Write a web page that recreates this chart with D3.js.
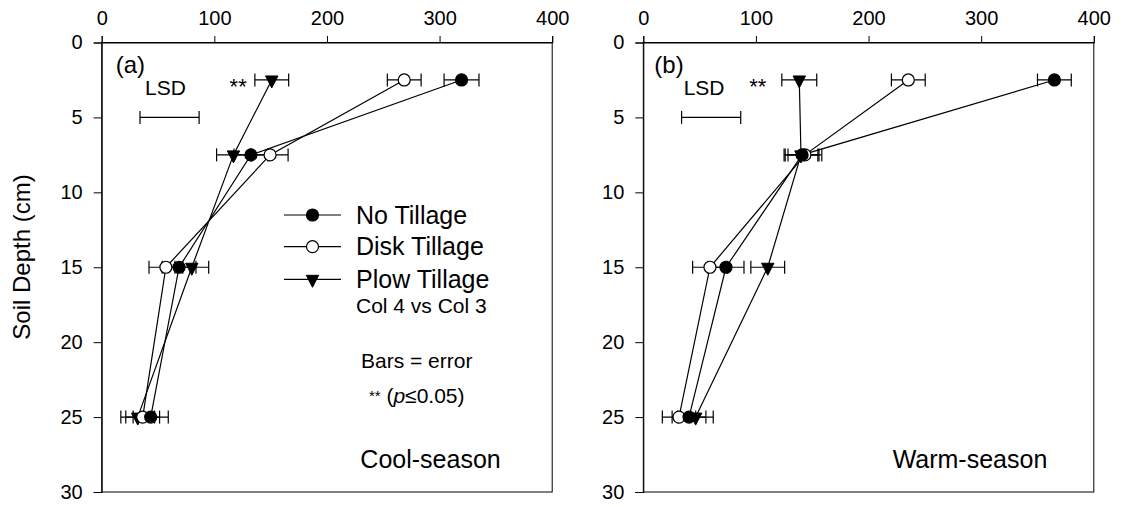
<!DOCTYPE html>
<html><head><meta charset="utf-8">
<script src="https://cdn.jsdelivr.net/npm/d3@7"></script>
<style>
html,body{margin:0;padding:0;background:#fff;}
svg{display:block;}
text{font-family:"Liberation Sans",Arial,sans-serif;fill:#000;}
</style></head>
<body>
<svg id="chart" width="1124" height="507"></svg>
<script>
// ---- data ----
const depths = [2.5, 7.5, 15, 25];
const xTicks = [0, 100, 200, 300, 400];
const yTicks = [0, 5, 10, 15, 20, 25, 30];
const seriesNames = ["No Tillage", "Disk Tillage", "Plow Tillage"];

const coolNo = [319.5, 132.5, 68.7, 43.5];
const coolNoErr = [15.5, 15, 15, 15.6];
const coolDisk = [268.6, 149.5, 57, 36.4];
const coolDiskErr = [15, 16, 15, 15];
const coolPlow = [151, 117, 80, 32];
const coolPlowErr = [15, 15, 15, 15];

const warmNo = [365, 141, 73.4, 40.6];
const warmNoErr = [15, 15, 16, 15];
const warmDisk = [235.3, 143.5, 59.2, 31.7];
const warmDiskErr = [15, 15, 15.4, 14.8];
const warmPlow = [138.5, 140, 110.5, 46.5];
const warmPlowErr = [15.5, 15, 15, 15.6];

const lsdRange = [34, 86.5];   // LSD bar at depth 5
const lsdDepth = 5;

const panelLabels = ["(a)", "(b)"];
const seasonLabels = ["Cool-season", "Warm-season"];

// ---- layout ----
const W = 450.5, H = 449.5;
const panels = [
  {x0: 101.7, y0: 42.5, series: [[coolNo, coolNoErr], [coolDisk, coolDiskErr], [coolPlow, coolPlowErr]], labelDx: 14, starX: 145, seasonEnd: 399, legend: true, title: true},
  {x0: 643.3, y0: 42.5, series: [[warmNo, warmNoErr], [warmDisk, warmDiskErr], [warmPlow, warmPlowErr]], labelDx: 11, starX: 123, seasonEnd: 404, legend: false, title: false}
];
const markerFill = ["#000", "#fff", "#000"];
const markerType = ["circle", "circle", "tri"];

const svg = d3.select("#chart");
const font = '"Liberation Sans",Arial,sans-serif';

function drawMarker(g, type, fill, x, y) {
  if (type === "circle") {
    g.append("circle").attr("cx", x).attr("cy", y).attr("r", 6)
      .attr("fill", fill).attr("stroke", "#000").attr("stroke-width", 1.2);
  } else {
    g.append("path").attr("transform", `translate(${x},${y})`)
      .attr("d", "M-6.2,-4 L6.2,-4 L0,8 Z")
      .attr("fill", fill).attr("stroke", "#000").attr("stroke-width", 1);
  }
}

panels.forEach((p, pi) => {
  const g = svg.append("g").attr("transform", `translate(${p.x0},${p.y0})`);
  const x = d3.scaleLinear().domain([0, 400]).range([0, W]);
  const y = d3.scaleLinear().domain([0, 30]).range([0, H]);

  // frame
  g.append("rect").attr("x", 0).attr("y", 0).attr("width", W).attr("height", H)
    .attr("fill", "none").attr("stroke", "#000").attr("stroke-width", 1);

  // axes
  const ax = g.append("g").call(d3.axisTop(x).tickValues(xTicks).tickSize(6.5).tickPadding(11).tickFormat(d3.format("d")));
  const ay = g.append("g").call(d3.axisLeft(y).tickValues(yTicks).tickSize(8).tickPadding(11).tickFormat(d3.format("d")));
  [ax, ay].forEach(a => {
    a.selectAll("text").attr("font-size", 20).attr("font-family", font).attr("fill", "#000");
    a.selectAll("line,path").attr("stroke", "#000");
  });

  // error bars
  p.series.forEach(([vals, errs]) => {
    vals.forEach((v, i) => {
      const yy = y(depths[i]);
      const x1 = x(v - errs[i]), x2 = x(v + errs[i]);
      g.append("line").attr("x1", x1).attr("x2", x2).attr("y1", yy).attr("y2", yy).attr("stroke", "#000").attr("stroke-width", 1.2);
      [x1, x2].forEach(xx => g.append("line").attr("x1", xx).attr("x2", xx).attr("y1", yy - 6.5).attr("y2", yy + 6.5).attr("stroke", "#000").attr("stroke-width", 1.2));
    });
  });

  // lines
  const line = d3.line().x(d => x(d[0])).y(d => y(d[1]));
  p.series.forEach(([vals]) => {
    g.append("path").attr("d", line(vals.map((v, i) => [v, depths[i]])))
      .attr("fill", "none").attr("stroke", "#000").attr("stroke-width", 1.2);
  });
  [2, 1, 0].forEach(si => {
    const vals = p.series[si][0];
    vals.forEach((v, i) => drawMarker(g, markerType[si], markerFill[si], x(v), y(depths[i])));
  });

  // LSD
  const ly = y(lsdDepth);
  g.append("line").attr("x1", x(lsdRange[0])).attr("x2", x(lsdRange[1])).attr("y1", ly).attr("y2", ly).attr("stroke", "#000").attr("stroke-width", 1.2);
  lsdRange.forEach(v => g.append("line").attr("x1", x(v)).attr("x2", x(v)).attr("y1", ly - 6.5).attr("y2", ly + 6.5).attr("stroke", "#000").attr("stroke-width", 1.2));

  // panel label
  const t = g.append("text").attr("x", p.labelDx).attr("y", 30.5).attr("font-size", 24);
  t.append("tspan").text(panelLabels[pi]);
  t.append("tspan").attr("font-size", 21).attr("dy", 22).text("LSD");

  // significance stars
  g.append("text").attr("x", p.starX).attr("y", 51).attr("text-anchor", "end").attr("font-size", 22).text("**");

  // season
  g.append("text").attr("x", p.seasonEnd).attr("y", 425).attr("text-anchor", "end").attr("font-size", 25).text(seasonLabels[pi]);

  if (p.legend) {
    const lg = g.append("g");
    const rows = [172.5, 204.2, 236.8];
    seriesNames.forEach((nm, si) => {
      lg.append("line").attr("x1", 182.3).attr("x2", 239.3).attr("y1", rows[si]).attr("y2", rows[si]).attr("stroke", "#000").attr("stroke-width", 1.2);
      drawMarker(lg, markerType[si], markerFill[si], 210.8, rows[si]);
      lg.append("text").attr("x", 254.3).attr("y", rows[si] + 8.5).attr("font-size", 25).text(nm);
    });
    lg.append("text").attr("x", 254.3).attr("y", 270.5).attr("font-size", 21).text("Col 4 vs Col 3");
    lg.append("text").attr("x", 315).attr("y", 325.5).attr("text-anchor", "middle").attr("font-size", 21).text("Bars = error");
    const pt = lg.append("text").attr("x", 315).attr("y", 360.5).attr("text-anchor", "middle").attr("font-size", 21);
    pt.append("tspan").attr("font-size", 15).attr("dy", -2).text("**");
    pt.append("tspan").attr("dy", 2).text(" (");
    pt.append("tspan").attr("font-style", "italic").text("p");
    pt.append("tspan").text("≤0.05)");
  }

  if (p.title) {
    svg.append("text").attr("transform", "translate(30,257) rotate(-90)")
      .attr("text-anchor", "middle").attr("font-size", 24).text("Soil Depth (cm)");
  }
});
</script>
</body></html>
